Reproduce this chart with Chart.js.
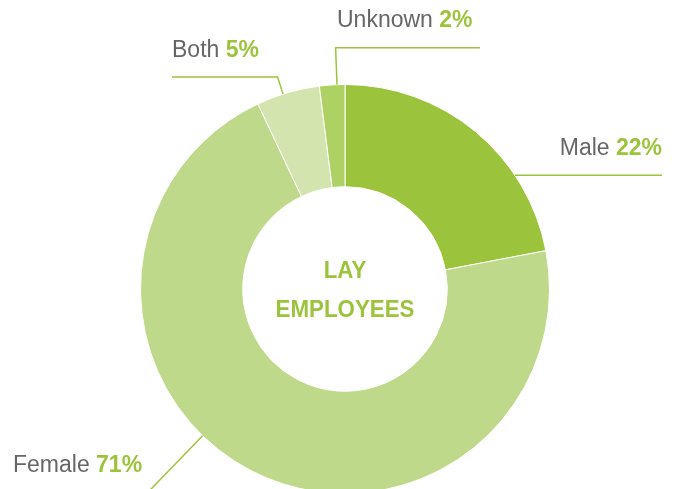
<!DOCTYPE html>
<html>
<head>
<meta charset="utf-8">
<script src="https://cdn.jsdelivr.net/npm/chart.js@4/dist/chart.umd.min.js"></script>
<style>
html,body{margin:0;padding:0;background:#fff;overflow:hidden;width:681px;height:489px;}
canvas{display:block;}
</style>
</head>
<body>
<canvas id="c" width="681" height="510"></canvas>
<script>
const categories = ['Male', 'Female', 'Both', 'Unknown'];
const values = [22, 71, 5, 2];
const valueLabels = ['22%', '71%', '5%', '2%'];
const centerTitle = ['LAY', 'EMPLOYEES'];
const sliceColors = ['#9bc43c', '#bfd98a', '#d4e4ae', '#add263'];

const GREEN = '#9bc43c';
const GRAY = '#666666';

// label layout: position within slice (fraction), radial leader length, horizontal end, text anchor
const labelLayout = [
  {frac: 0.71, leg: 0,  endX: 662, textX: 662, textY: 155, align: 'right'},
  {frac: 0.567, leg: 90, endX: 100, textX: 13,  textY: 472, align: 'left'},
  {frac: 0.42, leg: 18, endX: 172, textX: 172, textY: 57,  align: 'left'},
  {frac: 0.69, leg: 37, endX: 480, textX: 337, textY: 27,  align: 'left'}
];

const labelPlugin = {
  id: 'leaderLabels',
  afterDatasetsDraw(chart) {
    const ctx = chart.ctx;
    const meta = chart.getDatasetMeta(0);
    ctx.save();
    meta.data.forEach((arc, i) => {
      const L = labelLayout[i];
      const p = arc.getProps(['x', 'y', 'startAngle', 'endAngle', 'outerRadius'], true);
      const a = p.startAngle + (p.endAngle - p.startAngle) * L.frac;
      const ax = p.x + Math.cos(a) * p.outerRadius;
      const ay = p.y + Math.sin(a) * p.outerRadius;
      const ex = ax + Math.cos(a) * L.leg;
      const ey = ay + Math.sin(a) * L.leg;
      ctx.strokeStyle = GREEN;
      ctx.lineWidth = 1.5;
      ctx.beginPath();
      ctx.moveTo(ax, ay);
      ctx.lineTo(ex, ey);
      ctx.lineTo(L.endX, ey);
      ctx.stroke();

      const nameFont = '23px "Liberation Sans", Arial, sans-serif';
      const valFont = 'bold 23px "Liberation Sans", Arial, sans-serif';
      ctx.textBaseline = 'alphabetic';
      ctx.textAlign = 'left';
      ctx.font = nameFont;
      const nameText = categories[i] + ' ';
      const nw = ctx.measureText(nameText).width;
      ctx.font = valFont;
      const vw = ctx.measureText(valueLabels[i]).width;
      let x0 = L.align === 'right' ? L.textX - nw - vw : L.textX;
      ctx.font = nameFont;
      ctx.fillStyle = GRAY;
      ctx.fillText(nameText, x0, L.textY);
      ctx.font = valFont;
      ctx.fillStyle = GREEN;
      ctx.fillText(valueLabels[i], x0 + nw, L.textY);
    });

    // center title (slightly condensed bold sans)
    const c = meta.data[0];
    ctx.fillStyle = GREEN;
    ctx.textAlign = 'center';
    ctx.font = 'bold 24px "Liberation Sans", Arial, sans-serif';
    ctx.translate(c.x, c.y);
    ctx.scale(0.93, 1);
    ctx.fillText(centerTitle[0], 0, -11);
    ctx.fillText(centerTitle[1], 0, 28);
    ctx.restore();
  }
};

new Chart(document.getElementById('c'), {
  type: 'doughnut',
  data: {
    labels: categories,
    datasets: [{
      data: values,
      backgroundColor: sliceColors,
      borderColor: '#ffffff',
      borderWidth: 1
    }]
  },
  options: {
    responsive: false,
    animation: false,
    devicePixelRatio: 1,
    cutout: '50%',
    layout: {padding: {left: 140, right: 131, top: 84, bottom: 16}},
    plugins: {legend: {display: false}, tooltip: {enabled: false}}
  },
  plugins: [labelPlugin]
});
</script>
</body>
</html>
